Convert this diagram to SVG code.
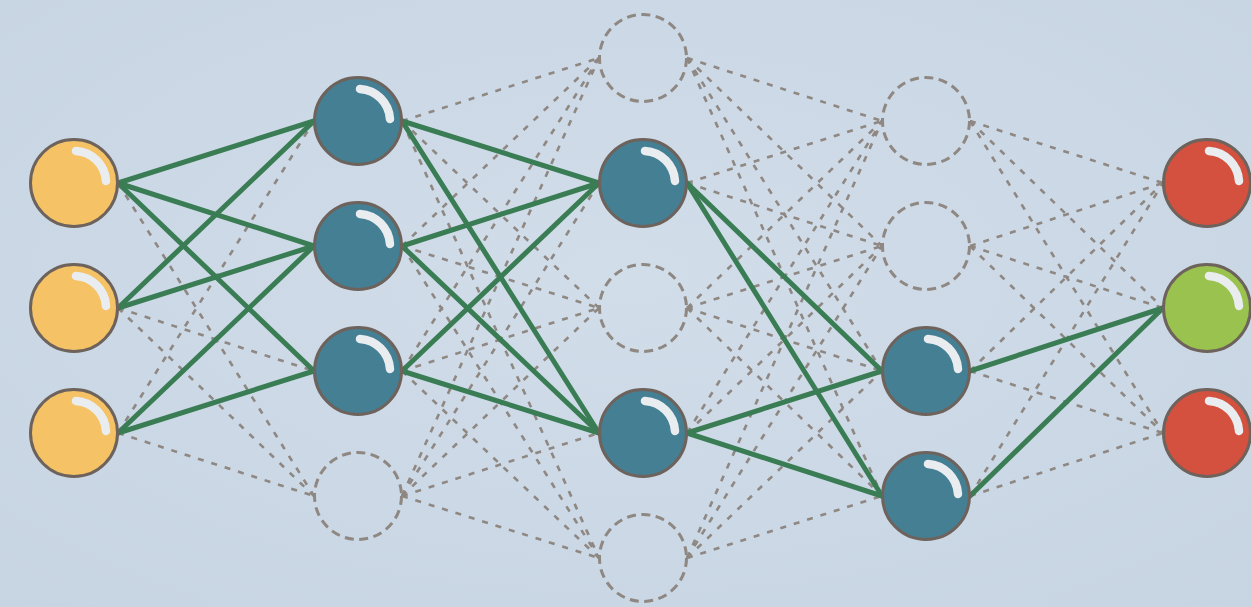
<svg xmlns="http://www.w3.org/2000/svg" width="1251" height="607" viewBox="0 0 1251 607">
<defs>
<radialGradient id="bg" cx="50%" cy="45%" r="75%">
<stop offset="0" stop-color="#d1dde9"/>
<stop offset="1" stop-color="#c7d4e2"/>
</radialGradient>
<style>
.d{stroke:#8e8782;stroke-width:2.6;stroke-dasharray:6 8;fill:none}
.g{stroke:#3a7d55;stroke-width:5;fill:none;stroke-linecap:round}
.n{stroke:#6d635c;stroke-width:3}
.e{fill:none;stroke:#8e8782;stroke-width:3;stroke-dasharray:9 5.5}
.y{fill:#f5c366}.b{fill:#457f94}.r{fill:#d4503f}.gr{fill:#9ac24e}
.h{fill:none;stroke:#eaedf0;stroke-width:8.5;stroke-linecap:round}
</style>
</defs>
<rect width="1251" height="607" fill="url(#bg)"/>
<g id="connectors">
<g id="dashed">
<line class="d" x1="118" y1="183" x2="314" y2="121"/><line class="d" x1="118" y1="183" x2="314" y2="246"/><line class="d" x1="118" y1="183" x2="314" y2="371"/><line class="d" x1="118" y1="183" x2="314" y2="496"/>
<line class="d" x1="118" y1="308" x2="314" y2="121"/><line class="d" x1="118" y1="308" x2="314" y2="246"/><line class="d" x1="118" y1="308" x2="314" y2="371"/><line class="d" x1="118" y1="308" x2="314" y2="496"/>
<line class="d" x1="118" y1="433" x2="314" y2="121"/><line class="d" x1="118" y1="433" x2="314" y2="246"/><line class="d" x1="118" y1="433" x2="314" y2="371"/><line class="d" x1="118" y1="433" x2="314" y2="496"/>
<line class="d" x1="402" y1="121" x2="599" y2="58"/><line class="d" x1="402" y1="121" x2="599" y2="183"/><line class="d" x1="402" y1="121" x2="599" y2="308"/><line class="d" x1="402" y1="121" x2="599" y2="433"/><line class="d" x1="402" y1="121" x2="599" y2="558"/>
<line class="d" x1="402" y1="246" x2="599" y2="58"/><line class="d" x1="402" y1="246" x2="599" y2="183"/><line class="d" x1="402" y1="246" x2="599" y2="308"/><line class="d" x1="402" y1="246" x2="599" y2="433"/><line class="d" x1="402" y1="246" x2="599" y2="558"/>
<line class="d" x1="402" y1="371" x2="599" y2="58"/><line class="d" x1="402" y1="371" x2="599" y2="183"/><line class="d" x1="402" y1="371" x2="599" y2="308"/><line class="d" x1="402" y1="371" x2="599" y2="433"/><line class="d" x1="402" y1="371" x2="599" y2="558"/>
<line class="d" x1="402" y1="496" x2="599" y2="58"/><line class="d" x1="402" y1="496" x2="599" y2="183"/><line class="d" x1="402" y1="496" x2="599" y2="308"/><line class="d" x1="402" y1="496" x2="599" y2="433"/><line class="d" x1="402" y1="496" x2="599" y2="558"/>
<line class="d" x1="687" y1="58" x2="882" y2="121"/><line class="d" x1="687" y1="58" x2="882" y2="246"/><line class="d" x1="687" y1="58" x2="882" y2="371"/><line class="d" x1="687" y1="58" x2="882" y2="496"/>
<line class="d" x1="687" y1="183" x2="882" y2="121"/><line class="d" x1="687" y1="183" x2="882" y2="246"/><line class="d" x1="687" y1="183" x2="882" y2="371"/><line class="d" x1="687" y1="183" x2="882" y2="496"/>
<line class="d" x1="687" y1="308" x2="882" y2="121"/><line class="d" x1="687" y1="308" x2="882" y2="246"/><line class="d" x1="687" y1="308" x2="882" y2="371"/><line class="d" x1="687" y1="308" x2="882" y2="496"/>
<line class="d" x1="687" y1="433" x2="882" y2="121"/><line class="d" x1="687" y1="433" x2="882" y2="246"/><line class="d" x1="687" y1="433" x2="882" y2="371"/><line class="d" x1="687" y1="433" x2="882" y2="496"/>
<line class="d" x1="687" y1="558" x2="882" y2="121"/><line class="d" x1="687" y1="558" x2="882" y2="246"/><line class="d" x1="687" y1="558" x2="882" y2="371"/><line class="d" x1="687" y1="558" x2="882" y2="496"/>
<line class="d" x1="970" y1="121" x2="1163" y2="183"/><line class="d" x1="970" y1="121" x2="1163" y2="308"/><line class="d" x1="970" y1="121" x2="1163" y2="433"/>
<line class="d" x1="970" y1="246" x2="1163" y2="183"/><line class="d" x1="970" y1="246" x2="1163" y2="308"/><line class="d" x1="970" y1="246" x2="1163" y2="433"/>
<line class="d" x1="970" y1="371" x2="1163" y2="183"/><line class="d" x1="970" y1="371" x2="1163" y2="308"/><line class="d" x1="970" y1="371" x2="1163" y2="433"/>
<line class="d" x1="970" y1="496" x2="1163" y2="183"/><line class="d" x1="970" y1="496" x2="1163" y2="308"/><line class="d" x1="970" y1="496" x2="1163" y2="433"/>
</g>
<g id="active">
<line class="g" x1="118" y1="183" x2="314" y2="121"/><line class="g" x1="118" y1="183" x2="314" y2="246"/><line class="g" x1="118" y1="183" x2="314" y2="371"/>
<line class="g" x1="118" y1="308" x2="314" y2="121"/><line class="g" x1="118" y1="308" x2="314" y2="246"/>
<line class="g" x1="118" y1="433" x2="314" y2="246"/><line class="g" x1="118" y1="433" x2="314" y2="371"/>
<line class="g" x1="402" y1="121" x2="599" y2="183"/><line class="g" x1="402" y1="121" x2="599" y2="433"/>
<line class="g" x1="402" y1="246" x2="599" y2="183"/><line class="g" x1="402" y1="246" x2="599" y2="433"/>
<line class="g" x1="402" y1="371" x2="599" y2="183"/><line class="g" x1="402" y1="371" x2="599" y2="433"/>
<line class="g" x1="687" y1="183" x2="882" y2="371"/><line class="g" x1="687" y1="183" x2="882" y2="496"/>
<line class="g" x1="687" y1="433" x2="882" y2="371"/><line class="g" x1="687" y1="433" x2="882" y2="496"/>
<line class="g" x1="970" y1="371" x2="1163" y2="308"/><line class="g" x1="970" y1="496" x2="1163" y2="308"/>
</g>
</g>
<g id="in1" transform="translate(74,183)"><circle class="n y" r="43.5"/><path class="h" d="M2,-32 A32,32 0 0 1 32,-2"/></g>
<g id="in2" transform="translate(74,308)"><circle class="n y" r="43.5"/><path class="h" d="M2,-32 A32,32 0 0 1 32,-2"/></g>
<g id="in3" transform="translate(74,433)"><circle class="n y" r="43.5"/><path class="h" d="M2,-32 A32,32 0 0 1 32,-2"/></g>
<g id="h1a" transform="translate(358,121)"><circle class="n b" r="43.5"/><path class="h" d="M2,-32 A32,32 0 0 1 32,-2"/></g>
<g id="h1b" transform="translate(358,246)"><circle class="n b" r="43.5"/><path class="h" d="M2,-32 A32,32 0 0 1 32,-2"/></g>
<g id="h1c" transform="translate(358,371)"><circle class="n b" r="43.5"/><path class="h" d="M2,-32 A32,32 0 0 1 32,-2"/></g>
<g id="h1d" transform="translate(358,496)"><circle class="e" r="43.5"/></g>
<g id="h2a" transform="translate(643,58)"><circle class="e" r="43.5"/></g>
<g id="h2b" transform="translate(643,183)"><circle class="n b" r="43.5"/><path class="h" d="M2,-32 A32,32 0 0 1 32,-2"/></g>
<g id="h2c" transform="translate(643,308)"><circle class="e" r="43.5"/></g>
<g id="h2d" transform="translate(643,433)"><circle class="n b" r="43.5"/><path class="h" d="M2,-32 A32,32 0 0 1 32,-2"/></g>
<g id="h2e" transform="translate(643,558)"><circle class="e" r="43.5"/></g>
<g id="h3a" transform="translate(926,121)"><circle class="e" r="43.5"/></g>
<g id="h3b" transform="translate(926,246)"><circle class="e" r="43.5"/></g>
<g id="h3c" transform="translate(926,371)"><circle class="n b" r="43.5"/><path class="h" d="M2,-32 A32,32 0 0 1 32,-2"/></g>
<g id="h3d" transform="translate(926,496)"><circle class="n b" r="43.5"/><path class="h" d="M2,-32 A32,32 0 0 1 32,-2"/></g>
<g id="out1" transform="translate(1207,183)"><circle class="n r" r="43.5"/><path class="h" d="M2,-32 A32,32 0 0 1 32,-2"/></g>
<g id="out2" transform="translate(1207,308)"><circle class="n gr" r="43.5"/><path class="h" d="M2,-32 A32,32 0 0 1 32,-2"/></g>
<g id="out3" transform="translate(1207,433)"><circle class="n r" r="43.5"/><path class="h" d="M2,-32 A32,32 0 0 1 32,-2"/></g>
</svg>
